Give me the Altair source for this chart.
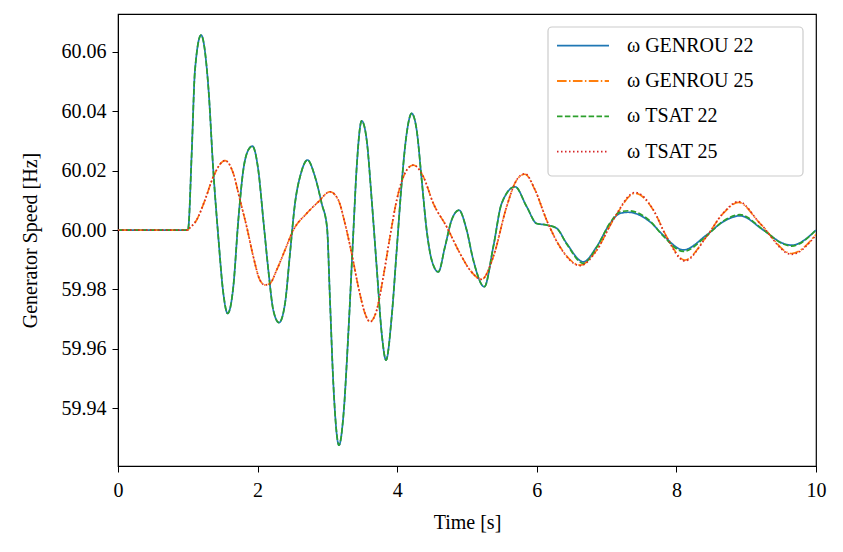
import altair as alt
import pandas as pd

# ---- data ----
T22 = [0, 1.0, 1.007, 1.056, 1.103, 1.19, 1.294, 1.365, 1.437, 1.509,
       1.571, 1.652, 1.724, 1.795, 1.867, 1.925, 2.01, 2.082, 2.154, 2.225,
       2.307, 2.393, 2.464, 2.536, 2.62, 2.715, 2.822, 2.918, 2.995, 3.037,
       3.085, 3.166, 3.228, 3.3, 3.371, 3.42, 3.491, 3.563, 3.635, 3.706,
       3.778, 3.84, 3.921, 3.993, 4.064, 4.136, 4.207, 4.279, 4.351, 4.422,
       4.494, 4.589, 4.685, 4.78, 4.885, 4.995, 5.09, 5.248, 5.377, 5.497,
       5.688, 5.855, 5.998, 6.14, 6.285, 6.428, 6.667, 6.858, 7.049, 7.19,
       7.31, 7.62, 7.81, 8.1, 8.43, 8.67, 8.91, 9.245, 9.53, 9.65, 10.0]
GENROU22 = [60, 60, 60.0005, 60.0259, 60.0539, 60.0657, 60.0483, 60.0202, 59.9977, 59.9787,
            59.9719, 59.9809, 60.0034, 60.0202, 60.027, 60.0283, 60.0202, 60.0034, 59.9865, 59.973,
            59.9688, 59.9753, 59.9921, 60.009, 60.019, 60.0236, 60.018, 60.009, 60.0008, 59.9764,
            59.9483, 59.9275, 59.9371, 59.9652, 59.9989, 60.0213, 60.0368, 60.0303, 60.0101, 59.9876,
            59.9652, 59.9562, 59.9708, 59.9933, 60.0157, 60.0326, 60.0393, 60.0337, 60.0169, 60.0,
            59.9899, 59.9859, 59.9944, 60.0034, 60.0067, 60.0, 59.9899, 59.9809, 59.9944, 60.009,
            60.0146, 60.0079, 60.0022, 60.0017, 60.0006, 59.9955, 59.9893, 59.9944, 60.0022, 60.0056,
            60.006, 60.0028, 59.9983, 59.9933, 59.9983, 60.0028, 60.0048, 60.0, 59.9955, 59.9949, 60.0]
TSAT22 = [60, 60, 60.0005, 60.0259, 60.0539, 60.0657, 60.0483, 60.0202, 59.9977, 59.9787,
          59.9719, 59.9809, 60.0034, 60.0202, 60.027, 60.0283, 60.0202, 60.0034, 59.9865, 59.973,
          59.9688, 59.9753, 59.9921, 60.009, 60.019, 60.0236, 60.018, 60.009, 60.0008, 59.9764,
          59.9483, 59.9275, 59.9371, 59.9652, 59.9989, 60.0213, 60.0368, 60.0303, 60.0101, 59.9876,
          59.9652, 59.9562, 59.9708, 59.9933, 60.0157, 60.0326, 60.0393, 60.0337, 60.0169, 60.0,
          59.9899, 59.9859, 59.9944, 60.0034, 60.0067, 60.0, 59.9899, 59.9809, 59.9944, 60.009,
          60.0146, 60.0079, 60.0022, 60.0017, 60.0006, 59.9953, 59.9888, 59.9942, 60.0024, 60.0061,
          60.0065, 60.0031, 59.998, 59.9928, 59.998, 60.003, 60.0052, 60.0001, 59.9953, 59.9946, 60.0]

T25 = [0, 1.0, 1.007, 1.127, 1.246, 1.366, 1.533, 1.652, 1.748, 1.844,
       1.939, 2.034, 2.106, 2.178, 2.273, 2.393, 2.512, 2.703, 2.87, 3.037,
       3.157, 3.252, 3.348, 3.443, 3.539, 3.61, 3.706, 3.801, 3.897, 3.993,
       4.136, 4.23, 4.374, 4.517, 4.709, 4.9, 5.043, 5.21, 5.377, 5.568,
       5.712, 5.83, 5.974, 6.14, 6.332, 6.62, 6.858, 7.096, 7.41, 7.67,
       7.86, 8.12, 8.43, 8.67, 8.89, 9.2, 9.65, 10.0]
GENROU25 = [60, 60, 60.0002, 60.0034, 60.0101, 60.018, 60.0234, 60.0191, 60.0101, 60.0011,
            59.991, 59.9831, 59.9815, 59.982, 59.9865, 59.9933, 60.0, 60.0056, 60.0095, 60.0129,
            60.0101, 60.0022, 59.9921, 59.9809, 59.9719, 59.9691, 59.973, 59.9843, 59.9978, 60.0101,
            60.0202, 60.0219, 60.018, 60.009, 60.0011, 59.9921, 59.9865, 59.9834, 59.991, 60.0079,
            60.0169, 60.0188, 60.0135, 60.0034, 59.9944, 59.9882, 59.9933, 60.0034, 60.0124, 60.0067,
            59.9978, 59.9899, 59.9978, 60.0056, 60.0093, 60.0022, 59.9921, 59.9985]
TSAT25 = [60, 60, 60.0002, 60.0034, 60.0101, 60.018, 60.0234, 60.0191, 60.0101, 60.0011,
          59.991, 59.9831, 59.9815, 59.982, 59.9865, 59.9933, 60.0, 60.0056, 60.0095, 60.0129,
          60.0101, 60.0022, 59.9921, 59.9809, 59.9719, 59.9691, 59.973, 59.9843, 59.9978, 60.0101,
          60.0202, 60.0219, 60.018, 60.009, 60.0011, 59.9921, 59.9865, 59.9834, 59.991, 60.0079,
          60.0169, 60.019, 60.0136, 60.0034, 59.9943, 59.9880, 59.9931, 60.0035, 60.0127, 60.0068,
          59.9976, 59.9896, 59.9977, 60.0057, 60.0096, 60.0022, 59.9918, 59.9983]

SERIES = ["ω GENROU 22", "ω GENROU 25", "ω TSAT 22", "ω TSAT 25"]
COLORS = ["#1f77b4", "#ff7f0e", "#2ca02c", "#d62728"]
DASHES = [[1, 0], [9.6, 2.4, 1.5, 2.4], [5.5, 2.4], [1.5, 2.5]]
X_TICKS = [0, 2, 4, 6, 8, 10]
Y_TICKS = [59.94, 59.96, 59.98, 60.00, 60.02, 60.04, 60.06]

rows = []
for name, ts, ys in [(SERIES[0], T22, GENROU22), (SERIES[1], T25, GENROU25),
                     (SERIES[2], T22, TSAT22), (SERIES[3], T25, TSAT25)]:
    for t, y in zip(ts, ys):
        rows.append({"series": name, "t": t, "w": y})
df = pd.DataFrame(rows)

FONT = "Liberation Serif"

lines = alt.Chart(df).mark_line(strokeWidth=1.7, interpolate="monotone", clip=True).encode(
    x=alt.X("t:Q", scale=alt.Scale(domain=[0, 10], nice=False),
            axis=alt.Axis(values=X_TICKS, format="d", title="Time [s]", labelFlush=False)),
    y=alt.Y("w:Q", scale=alt.Scale(domain=[59.9205, 60.0728], nice=False, zero=False),
            axis=alt.Axis(values=Y_TICKS, format=".2f", title="Generator Speed [Hz]", labelFlush=False)),
    color=alt.Color("series:N", scale=alt.Scale(domain=SERIES, range=COLORS), legend=None),
    strokeDash=alt.StrokeDash("series:N", scale=alt.Scale(domain=SERIES, range=DASHES), legend=None),
)

# ---- legend drawn as marks (positions in plot-area pixels) ----
ONE = pd.DataFrame({"k": [0]})
layers = [lines]
layers.append(
    alt.Chart(ONE).mark_rect(fill="white", fillOpacity=0.85, stroke="#cccccc", strokeWidth=1.2,
                             cornerRadius=4).encode(
        x=alt.value(430), x2=alt.value(685), y=alt.value(13), y2=alt.value(162))
)
for i, (name, col, dash) in enumerate(zip(SERIES, COLORS, DASHES)):
    yv = 31.7 + i * 35.3
    layers.append(
        alt.Chart(ONE).mark_rule(color=col, strokeDash=dash, strokeWidth=1.8).encode(
            x=alt.value(439), x2=alt.value(491), y=alt.value(yv))
    )
    layers.append(
        alt.Chart(ONE).mark_text(align="left", baseline="middle", font=FONT, fontSize=20,
                                 color="black").encode(
            x=alt.value(509), y=alt.value(yv), text=alt.value(name))
    )

chart = alt.layer(*layers).properties(
    width=698, height=452,
    autosize=alt.AutoSizeParams(type="none"),
    padding={"left": 110, "top": 6, "right": 19, "bottom": 78},
).configure_view(
    stroke="black", strokeWidth=1.2
).configure_axis(
    grid=False, domainColor="black", tickColor="black", tickSize=6, tickWidth=1,
    labelFont=FONT, labelFontSize=20, labelColor="black", labelPadding=6,
    titleFont=FONT, titleFontSize=20, titleColor="black", titleFontWeight="normal",
).configure_axisY(titlePadding=21).configure_axisX(titlePadding=12, labelPadding=8)

chart.save("out.html", embed_options={"renderer": "svg", "actions": False})
